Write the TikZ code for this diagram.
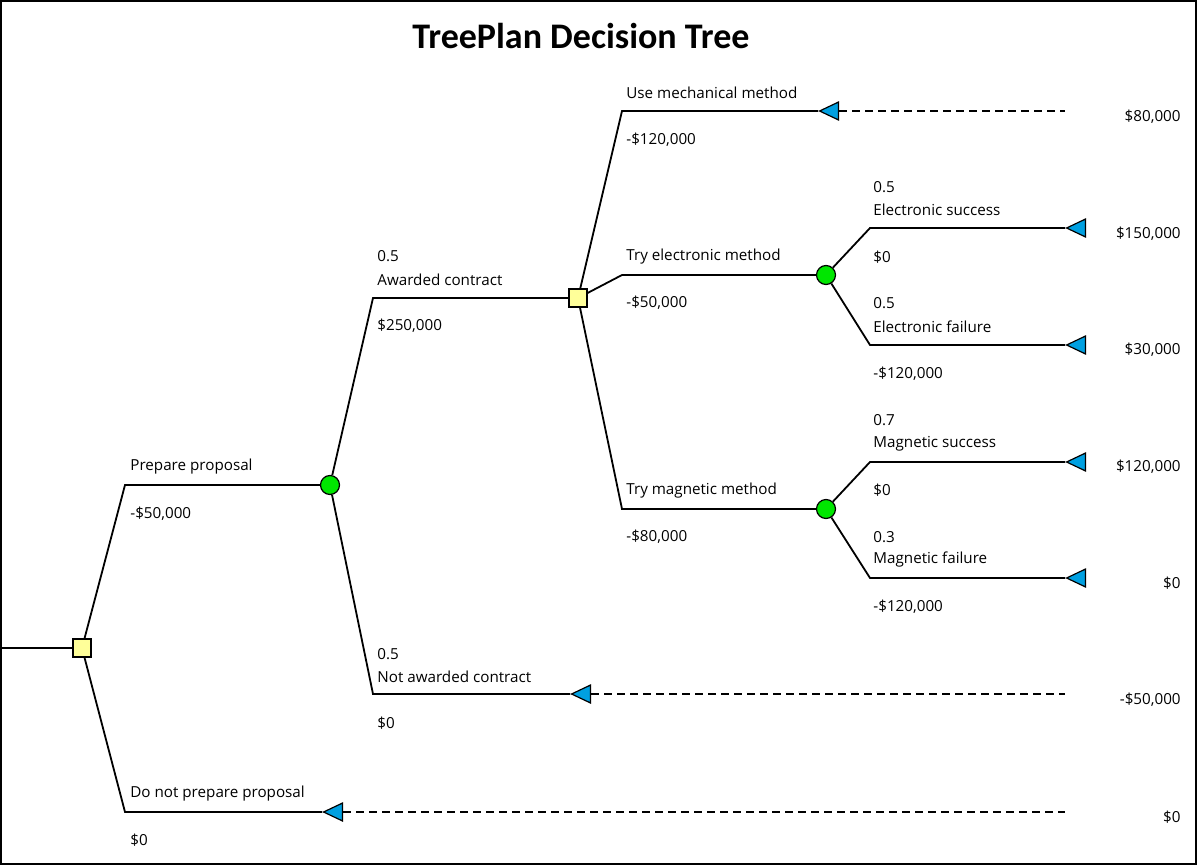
\documentclass[tikz,border=0pt]{standalone}
\usepackage{fontspec}
\setmainfont{Open Sans}
\newfontfamily\titlefont{Carlito}
\usetikzlibrary{shapes.geometric}
\definecolor{dsq}{RGB}{255,255,153}
\definecolor{chg}{RGB}{0,230,0}
\definecolor{trb}{RGB}{0,160,225}
\begin{document}
\begin{tikzpicture}[x=0.5pt,y=-0.5pt,
  br/.style={line width=0.9pt},
  dashln/.style={line width=0.9pt,dash pattern=on 4pt off 2.5pt},
  dec/.style={draw,fill=dsq,minimum size=9pt,inner sep=0,line width=0.6pt},
  chc/.style={draw,fill=chg,circle,minimum size=9.5pt,inner sep=0,line width=0.6pt},
  tri/.style={draw,fill=trb,isosceles triangle,shape border rotate=180,isosceles triangle stretches,minimum width=9pt,minimum height=9.5pt,inner sep=0,anchor=apex,line width=0.6pt},
  lb/.style={anchor=west,font=\fontsize{7.6pt}{8.5pt}\selectfont,inner sep=0},
  val/.style={anchor=east,font=\fontsize{7.6pt}{8.5pt}\selectfont,inner sep=0}]
\useasboundingbox (0,0) rectangle (1198,866);
\draw[line width=0.8pt] (1,1) rectangle (1196,864);
\node[font=\titlefont\bfseries\fontsize{18pt}{21pt}\selectfont] (title) at (581,36) {TreePlan Decision Tree};
% root
\coordinate (r0) at (0,648);
\node[dec] (d1) at (82,648) {};
\draw[br] (r0) -- (d1);
\coordinate (a1) at (125,485); \node[chc] (c1) at (330,485) {};
\coordinate (a2) at (125,812); \node[tri] (t1) at (322,812) {}; \coordinate (e1) at (1065,812);
\draw[br] (d1) -- (a1) -- (c1);
\draw[br] (d1) -- (a2) -- (t1.apex);
\draw[dashln] (t1.east) -- (e1);
\node[lb] (l1) at (130,467) {Prepare proposal};
\node[lb] (l2) at (130,514) {-\$50,000};
\node[lb] (l3) at (130,794) {Do not prepare proposal};
\node[lb] (l4) at (130,840) {\$0};
\node[val] (v1) at (1181,817) {\$0};
% chance 1
\coordinate (b1) at (373,298); \node[dec] (d2) at (578,298) {};
\coordinate (b2) at (373,694); \node[tri] (t2) at (570,694) {}; \coordinate (e2) at (1065,694);
\draw[br] (c1) -- (b1) -- (d2);
\draw[br] (c1) -- (b2) -- (t2.apex);
\draw[dashln] (t2.east) -- (e2);
\node[lb] (l5) at (377,256) {0.5};
\node[lb] (l6) at (377,280) {Awarded contract};
\node[lb] (l7) at (377,326) {\$250,000};
\node[lb] (l8) at (377,654) {0.5};
\node[lb] (l9) at (377,677) {Not awarded contract};
\node[lb] (l10) at (377,723) {\$0};
\node[val] (v2) at (1181,700) {-\$50,000};
% decision 2
\coordinate (g1) at (622,111); \node[tri] (t3) at (818,111) {}; \coordinate (e3) at (1065,111);
\coordinate (g2) at (622,275); \node[chc] (c2) at (826,275) {};
\coordinate (g3) at (622,509); \node[chc] (c3) at (826,509) {};
\draw[br] (d2) -- (g1) -- (t3.apex);
\draw[dashln] (t3.east) -- (e3);
\draw[br] (d2) -- (g2) -- (c2);
\draw[br] (d2) -- (g3) -- (c3);
\node[lb] (l11) at (626,93) {Use mechanical method};
\node[lb] (l12) at (626,140) {-\$120,000};
\node[lb] (l13) at (626,257) {Try electronic method};
\node[lb] (l14) at (626,303) {-\$50,000};
\node[lb] (l15) at (626,491) {Try magnetic method};
\node[lb] (l16) at (626,537) {-\$80,000};
\node[val] (v3) at (1181,117) {\$80,000};
% chance 2
\coordinate (h1) at (870,228); \node[tri] (t4) at (1065,228) {};
\coordinate (h2) at (870,345); \node[tri] (t5) at (1065,345) {};
\draw[br] (c2) -- (h1) -- (t4.apex);
\draw[br] (c2) -- (h2) -- (t5.apex);
\node[lb] (l17) at (873,187) {0.5};
\node[lb] (l18) at (873,210) {Electronic success};
\node[lb] (l19) at (873,257) {\$0};
\node[lb] (l20) at (873,303) {0.5};
\node[lb] (l21) at (873,327) {Electronic failure};
\node[lb] (l22) at (873,374) {-\$120,000};
\node[val] (v4) at (1181,234) {\$150,000};
\node[val] (v5) at (1181,350) {\$30,000};
% chance 3
\coordinate (k1) at (870,462); \node[tri] (t6) at (1065,462) {};
\coordinate (k2) at (870,578); \node[tri] (t7) at (1065,578) {};
\draw[br] (c3) -- (k1) -- (t6.apex);
\draw[br] (c3) -- (k2) -- (t7.apex);
\node[lb] (l23) at (873,420) {0.7};
\node[lb] (l24) at (873,444) {Magnetic success};
\node[lb] (l25) at (873,490) {\$0};
\node[lb] (l26) at (873,537) {0.3};
\node[lb] (l27) at (873,560) {Magnetic failure};
\node[lb] (l28) at (873,607) {-\$120,000};
\node[val] (v6) at (1181,467) {\$120,000};
\node[val] (v7) at (1181,583) {\$0};
\end{tikzpicture}
\end{document}
